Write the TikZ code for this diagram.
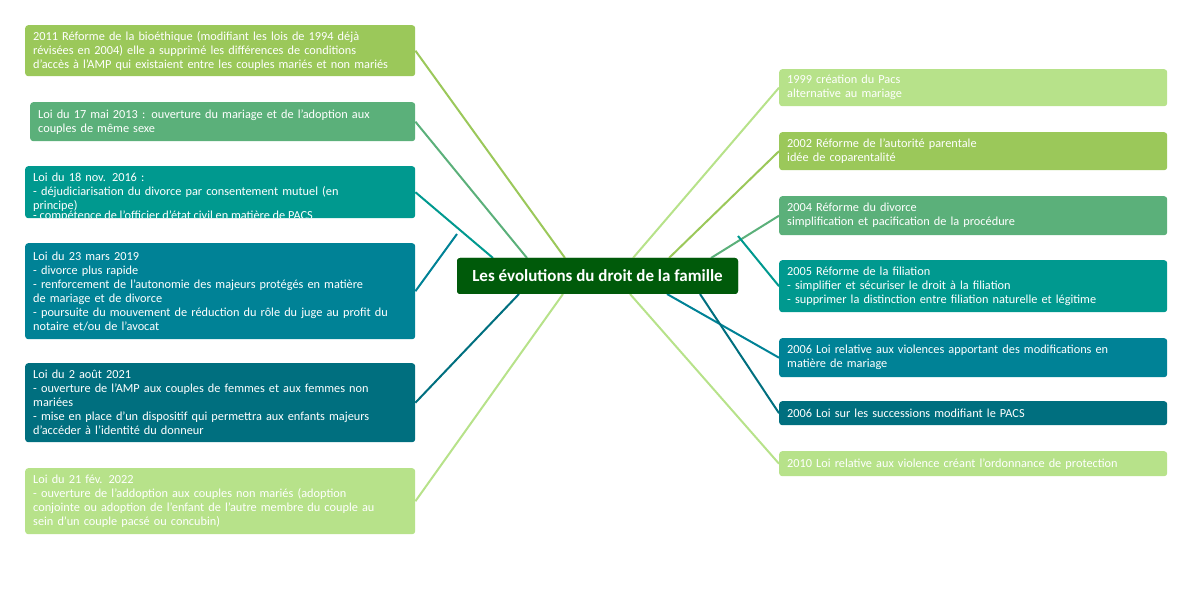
\documentclass[tikz,border=0pt]{standalone}
\usepackage{fontspec}
\setmainfont{Carlito}
\definecolor{cOl}{HTML}{9BC85A}
\definecolor{cGr}{HTML}{5BB07A}
\definecolor{cTe}{HTML}{00998F}
\definecolor{cBt}{HTML}{008296}
\definecolor{cDt}{HTML}{006F7F}
\definecolor{cLg}{HTML}{B7E28A}
\definecolor{cCe}{HTML}{005A0A}
\begin{document}
\begin{tikzpicture}[x=1pt,y=-1pt,
 box/.style={fill=#1,rounded corners=3pt,anchor=north west,text=white,align=left,inner xsep=8pt,inner ysep=3pt,font=\fontsize{12.3}{14}\selectfont},
 lbox/.style={box=#1,minimum width=390pt,text width=374pt},
 rbox/.style={box=#1,minimum width=388pt,text width=372pt},
 link/.style={draw=#1,line width=2pt}]
\useasboundingbox (0,0) rectangle (1200,604);
% connectors first (behind)
\node[fill=cCe,rounded corners=3pt,minimum width=281pt,minimum height=36pt,text=white,font=\fontsize{17}{20}\selectfont\bfseries] (C) at (597.5,276) {};
\coordinate (cnw) at (457,258); \coordinate (csw) at (457,294);
\node[lbox=cOl,minimum height=51pt] (L1) at (25,25) {2011 Réforme de la bioéthique (modifiant les lois de 1994 déjà\\révisées en 2004) elle a supprimé les différences de conditions\\d'accès à l'AMP qui existaient entre les couples mariés et non mariés};
\node[lbox=cGr,minimum height=39pt,minimum width=385pt,text width=369pt] (L2) at (30,102) {Loi du 17 mai 2013 : ouverture du mariage et de l'adoption aux\\couples de même sexe};
\node[lbox=cTe,minimum height=52pt] (L3) at (25,166) {Loi du 18 nov. 2016 :\\- déjudiciarisation du divorce par consentement mutuel (en\\principe)};
\begin{scope}
\clip (25,166) rectangle (415,218);
\node[anchor=north west,text=white,inner sep=0pt,font=\fontsize{12.3}{14}\selectfont] at (33,211) {- compétence de l'officier d'état civil en matière de PACS};
\end{scope}
\node[lbox=cBt,minimum height=96pt] (L4) at (25,243) {Loi du 23 mars 2019\\- divorce plus rapide\\- renforcement de l'autonomie des majeurs protégés en matière\\de mariage et de divorce\\- poursuite du mouvement de réduction du rôle du juge au profit du\\notaire et/ou de l'avocat};
\node[lbox=cDt,minimum height=79pt] (L5) at (25,363) {Loi du 2 août 2021\\- ouverture de l'AMP aux couples de femmes et aux femmes non\\mariées\\- mise en place d'un dispositif qui permettra aux enfants majeurs\\d'accéder à l'identité du donneur};
\node[lbox=cLg,minimum height=66pt] (L6) at (25,468) {Loi du 21 fév. 2022\\- ouverture de l'addoption aux couples non mariés (adoption\\conjointe ou adoption de l'enfant de l'autre membre du couple au\\sein d'un couple pacsé ou concubin)};
\node[rbox=cLg,minimum height=37pt] (R1) at (779,69) {1999 création du Pacs\\alternative au mariage};
\node[rbox=cOl,minimum height=38pt] (R2) at (779,132) {2002 Réforme de l'autorité parentale\\idée de coparentalité};
\node[rbox=cGr,minimum height=39pt] (R3) at (779,196) {2004 Réforme du divorce\\simplification et pacification de la procédure};
\node[rbox=cTe,minimum height=52pt] (R4) at (779,260) {2005 Réforme de la filiation\\- simplifier et sécuriser le droit à la filiation\\- supprimer la distinction entre filiation naturelle et légitime};
\node[rbox=cBt,minimum height=39pt] (R5) at (779,338) {2006 Loi relative aux violences apportant des modifications en\\matière de mariage};
\node[rbox=cDt,minimum height=24pt] (R6) at (779,401) {2006 Loi sur les successions modifiant le PACS};
\node[rbox=cLg,minimum height=25pt] (R7) at (779,451) {2010 Loi relative aux violence créant l'ordonnance de protection};
\begin{scope}[on background layer/.style={}]
\draw[link=cOl] (L1.east) -- ([xshift=108pt]cnw);
\draw[link=cGr] (L2.east) -- ([xshift=70pt]cnw);
\draw[link=cTe] (L3.east) -- ([xshift=36pt]cnw);
\draw[link=cBt] (L4.east) -- ([yshift=24pt]cnw);
\draw[link=cDt] (L5.east) -- ([xshift=62pt]csw);
\draw[link=cLg] (L6.east) -- ([xshift=106pt]csw);
\draw[link=cLg] (R1.west) -- ([xshift=176pt]cnw);
\draw[link=cOl] (R2.west) -- ([xshift=212pt]cnw);
\draw[link=cGr] (R3.west) -- ([xshift=254pt]cnw);
\draw[link=cTe] (R4.west) -- ([xshift=281pt,yshift=22pt]cnw);
\draw[link=cBt] (R5.west) -- ([xshift=210pt]csw);
\draw[link=cDt] (R6.west) -- ([xshift=243pt]csw);
\draw[link=cLg] (R7.west) -- ([xshift=173pt]csw);
\end{scope}
\node[fill=cCe,rounded corners=3pt,minimum width=281pt,minimum height=36pt,text=white,font=\fontsize{17}{20}\selectfont\bfseries] (C2) at (C) {Les évolutions du droit de la famille};
\end{tikzpicture}
\end{document}
